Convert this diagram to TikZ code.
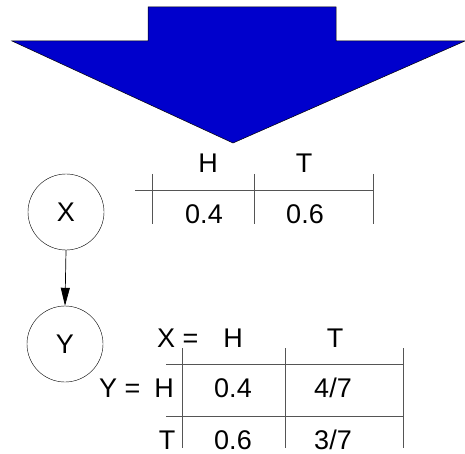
\documentclass[tikz,border=0pt]{standalone}
\usepackage{fontspec}
\setmainfont{Liberation Sans}
\usetikzlibrary{arrows.meta, positioning}
\definecolor{bnBlue}{HTML}{0000CC}
\definecolor{bnRule}{HTML}{555555}
\tikzset{
  varnode/.style={draw, circle, thin, minimum size=76pt, inner sep=0pt, font=\fontsize{27}{32}\selectfont},
  cell/.style={inner sep=0pt, font=\fontsize{27}{32}\selectfont},
  rule/.style={draw=bnRule, line width=1pt},
  edge/.style={-{Triangle[length=18pt, width=9pt]}, line width=0.7pt}
}
\begin{document}
\begin{tikzpicture}[x=1pt, y=-1pt]
  \useasboundingbox (0,0) rectangle (465,454);
  % big arrow
  \draw[fill=bnBlue, line width=0.5pt] (148,7) -- (336,7) -- (336,41) -- (465,41)
    -- (233,143) -- (12,41) -- (148,41) -- cycle;
  % network
  \node[varnode] (X) at (66,212) {X};
  \node[varnode] (Y) at (65,344) {Y};
  \draw[edge] (X.south) -- (Y.north);
  % prior table for X
  \draw[rule] (135,191) -- (373,191);
  \foreach \x in {152,254,373}{
    \draw[rule] (\x,174) -- (\x,224);
  }
  \node[cell] (pH) at (208,163) {H};
  \node[cell] (pT) at (304,163) {T};
  \node[cell] (p04) at (204,214) {0.4};
  \node[cell] (p06) at (305,214) {0.6};
  % conditional table for Y given X
  \draw[rule] (166,364) -- (403,364);
  \draw[rule] (166,416) -- (403,416);
  \foreach \x in {182,285,403}{
    \draw[rule] (\x,348) -- (\x,448);
  }
  \node[cell, anchor=west] (xlbl) at (157,338) {X =};
  \node[cell] (xH) at (233,338) {H};
  \node[cell] (xT) at (335,338) {T};
  \node[cell, anchor=west] (ylbl) at (99,388) {Y =};
  \node[cell] (yH) at (164,388) {H};
  \node[cell] (yT) at (167,440) {T};
  \node[cell] (c11) at (233,388) {0.4};
  \node[cell] (c12) at (333,388) {4/7};
  \node[cell] (c21) at (233,440) {0.6};
  \node[cell] (c22) at (333,440) {3/7};
\end{tikzpicture}
\end{document}
